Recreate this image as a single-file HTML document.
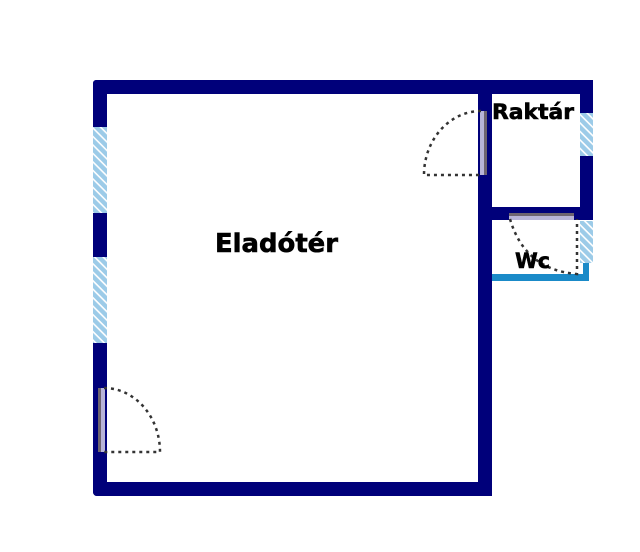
<!DOCTYPE html>
<html><head><style>html,body{margin:0;padding:0;background:#fff}svg{display:block}</style></head>
<body>
<svg width="640" height="552" viewBox="0 0 640 552" xmlns="http://www.w3.org/2000/svg">
<defs>
<pattern id="h" width="6" height="6" patternUnits="userSpaceOnUse" patternTransform="rotate(45)">
<rect width="6" height="6" fill="#9ccbe8"/><rect width="6" height="1.6" fill="#fff"/>
</pattern>
</defs>
<g fill="#00007a">
<rect x="93" y="80" width="500" height="14" rx="3"/>
<rect x="93" y="80" width="14" height="416" rx="4"/>
<rect x="93" y="482" width="399" height="14" rx="4"/>
<rect x="478" y="80" width="14" height="416"/>
<rect x="580" y="80" width="13" height="140"/>
<rect x="478" y="207" width="115" height="13"/>
</g>
<rect x="93" y="127" width="14" height="86" fill="url(#h)"/>
<rect x="93" y="257" width="14" height="86" fill="url(#h)"/>
<rect x="580" y="113" width="13" height="43" fill="url(#h)"/>
<rect x="580" y="221" width="13" height="42" fill="url(#h)"/>
<rect x="492" y="274" width="97" height="7" fill="#1a8ac8"/>
<rect x="583" y="263" width="6" height="18" fill="#1a8ac8"/>
<rect x="98" y="388" width="3" height="64" fill="#6e6470"/><rect x="101" y="388" width="4" height="64" fill="#b8b4d8"/>
<path d="M104 388 A56 64 0 0 1 160 452 L104 452" fill="none" stroke="#333" stroke-width="2.5" stroke-dasharray="3 4"/>
<rect x="480" y="111" width="4" height="64" fill="#b8b4d8"/><rect x="484" y="111" width="3" height="64" fill="#6e6470"/>
<path d="M481 111 A57 64 0 0 0 424 175 L481 175" fill="none" stroke="#333" stroke-width="2.5" stroke-dasharray="3 4"/>
<rect x="509" y="213" width="65" height="3" fill="#6e6470"/><rect x="509" y="216" width="65" height="4" fill="#b8b4d8"/>
<path d="M510 219 Q525 270 577 274 L577 219" fill="none" stroke="#333" stroke-width="2.5" stroke-dasharray="3 4"/>
<g font-family="DejaVu Sans, Liberation Sans, sans-serif" font-weight="bold" fill="#000" stroke="#000" stroke-width="0.6">
<text x="215" y="252" font-size="26" textLength="123" lengthAdjust="spacingAndGlyphs">Eladótér</text>
<text x="492" y="119" font-size="21" textLength="82" lengthAdjust="spacingAndGlyphs">Raktár</text>
<text x="515" y="268" font-size="21" textLength="35" lengthAdjust="spacingAndGlyphs">Wc</text>
</g>
</svg>
</body></html>
